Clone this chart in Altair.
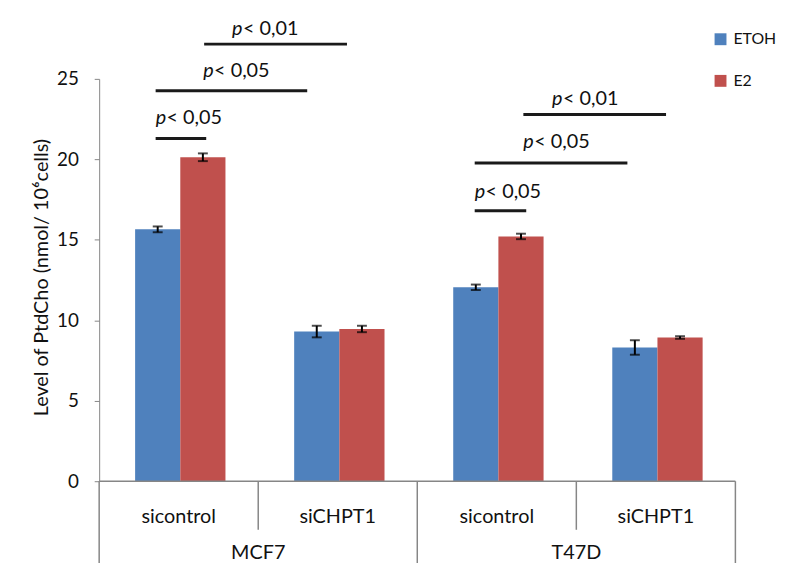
import altair as alt
import pandas as pd

# ---------------- data ----------------
cell_lines = ["MCF7", "T47D"]
treatments = ["sicontrol", "siCHPT1"]
series = ["ETOH", "E2"]
etoh_values = [15.65, 9.30, 12.05, 8.31]
e2_values = [20.13, 9.46, 15.21, 8.93]
etoh_errors = [0.18, 0.36, 0.17, 0.45]
e2_errors = [0.24, 0.20, 0.17, 0.08]

# significance brackets (x in category units, y in data units)
sig_labels = ["< 0,05", "< 0,05", "< 0,01", "< 0,05", "< 0,05", "< 0,01"]
sig_x1 = [0.355, 0.355, 0.660, 2.361, 2.361, 2.667]
sig_x2 = [0.673, 1.308, 1.558, 2.685, 3.321, 3.564]
sig_y = [21.30, 24.26, 27.16, 16.81, 19.77, 22.78]
sig_text_x = [0.355, 0.654, 0.835, 2.361, 2.667, 2.847]
sig_text_y = [22.17, 25.12, 27.71, 17.61, 20.69, 23.40]

colors = ["#4F81BD", "#C0504D"]
FONT = "Lato"
TXT = "#111111"
GRID = "#868686"

# ---------------- layout helpers ----------------
BAR_START = 0.226
BAR_W = 0.284
PLOT_W = 642
PLOT_H = 406

rows = []
values = [etoh_values, e2_values]
errors = [etoh_errors, e2_errors]
g = 0
for ci, cl in enumerate(cell_lines):
    for ti, tr in enumerate(treatments):
        for k, s in enumerate(series):
            x0 = g + BAR_START + k * BAR_W
            v = values[k][g]
            e = errors[k][g]
            rows.append(dict(cell=cl, treat=tr, series=s, value=v,
                             x0=x0, x1=x0 + BAR_W, xc=x0 + BAR_W / 2,
                             lo=v - e, hi=v + e))
        g += 1
df = pd.DataFrame(rows)
n_groups = g

xscale = alt.Scale(domain=[0, n_groups], nice=False, zero=False)
yscale = alt.Scale(domain=[0, 25], nice=False)

base = alt.Chart(df)

bars = base.mark_bar().encode(
    x=alt.X("x0:Q", scale=xscale, axis=None),
    x2="x1:Q",
    y=alt.Y("value:Q", scale=yscale,
            axis=alt.Axis(values=[0, 5, 10, 15, 20, 25], grid=False,
                          domainColor=GRID, tickColor=GRID, tickSize=5,
                          labelFont=FONT, labelFontSize=19, labelColor=TXT,
                          labelPadding=16,
                          title="Level of PtdCho (nmol/ 10\u2076cells)",
                          titleFont=FONT, titleFontSize=20,
                          titleFontWeight="normal", titleColor=TXT,
                          titleAngle=270, titleX=-58, titleY=200,
                          titleAlign="center", titleBaseline="middle")),
    y2=alt.datum(0),
    color=alt.Color("series:N",
                    scale=alt.Scale(domain=series, range=colors),
                    legend=alt.Legend(title=None, orient="none",
                                      legendX=619, legendY=-48,
                                      symbolType="square", symbolSize=144,
                                      symbolStrokeWidth=0,
                                      labelFont=FONT, labelFontSize=16,
                                      labelColor=TXT, labelOffset=5,
                                      rowPadding=26, padding=0)),
)

err_rule = base.mark_rule(color="black", strokeWidth=2).encode(
    x="xc:Q", y="lo:Q", y2="hi:Q")
cap_lo = base.mark_tick(color="black", orient="horizontal", size=10,
                        thickness=2).encode(x="xc:Q", y="lo:Q")
cap_hi = base.mark_tick(color="black", orient="horizontal", size=10,
                        thickness=2).encode(x="xc:Q", y="hi:Q")

sig_df = pd.DataFrame(dict(x1=sig_x1, x2=sig_x2, y=sig_y,
                           tx=sig_text_x, ty=sig_text_y, label=sig_labels))
sig_base = alt.Chart(sig_df)
sig_lines = sig_base.mark_rule(color="#1a1a1a", strokeWidth=3).encode(
    x=alt.X("x1:Q", scale=xscale), x2="x2:Q", y=alt.Y("y:Q", scale=yscale))
sig_p = sig_base.mark_text(align="left", baseline="alphabetic", font=FONT,
                           fontSize=20, fontStyle="italic",
                           color=TXT).encode(
    x=alt.X("tx:Q", scale=xscale), y=alt.Y("ty:Q", scale=yscale),
    text=alt.value("p"))
sig_txt = sig_base.mark_text(align="left", baseline="alphabetic", font=FONT,
                             fontSize=20, dx=11, color=TXT).encode(
    x=alt.X("tx:Q", scale=xscale), y=alt.Y("ty:Q", scale=yscale),
    text="label:N")

# ---------------- category table under the plot ----------------
treat_df = pd.DataFrame(dict(
    label=[t for _ in cell_lines for t in treatments],
    xm=[i + 0.5 for i in range(n_groups)]))
cell_df = pd.DataFrame(dict(
    label=cell_lines,
    xm=[ci * len(treatments) + len(treatments) / 2 for ci in range(len(cell_lines))]))
long_df = pd.DataFrame(dict(xb=[ci * len(treatments) for ci in range(len(cell_lines) + 1)]))
short_df = pd.DataFrame(dict(xb=[i for i in range(n_groups) if i % len(treatments) != 0]))
axis_df = pd.DataFrame(dict(xa=[0], xb=[n_groups]))

treat_text = alt.Chart(treat_df).mark_text(
    font=FONT, fontSize=20, color=TXT, baseline="alphabetic").encode(
    x=alt.X("xm:Q", scale=xscale), y=alt.value(448), text="label:N")
cell_text = alt.Chart(cell_df).mark_text(
    font=FONT, fontSize=20, color=TXT, baseline="alphabetic").encode(
    x=alt.X("xm:Q", scale=xscale), y=alt.value(484), text="label:N")
long_rules = alt.Chart(long_df).mark_rule(color=GRID, strokeWidth=1.5).encode(
    x=alt.X("xb:Q", scale=xscale), y=alt.value(PLOT_H), y2=alt.value(PLOT_H + 110))
short_rules = alt.Chart(short_df).mark_rule(color=GRID, strokeWidth=1.5).encode(
    x=alt.X("xb:Q", scale=xscale), y=alt.value(PLOT_H), y2=alt.value(PLOT_H + 49))
x_line = alt.Chart(axis_df).mark_rule(color=GRID, strokeWidth=1.5).encode(
    x=alt.X("xa:Q", scale=xscale), x2="xb:Q", y=alt.value(PLOT_H))

chart = alt.layer(
    bars, err_rule, cap_lo, cap_hi, sig_lines, sig_p, sig_txt,
    long_rules, short_rules, x_line, treat_text, cell_text,
).properties(
    width=PLOT_W, height=PLOT_H,
    autosize=alt.AutoSizeParams(type="none"),
    padding={"left": 92, "top": 69, "right": 43, "bottom": 80},
    background="white",
).configure_view(stroke=None)

chart.save("out.html", embed_options={"renderer": "svg", "actions": False})
